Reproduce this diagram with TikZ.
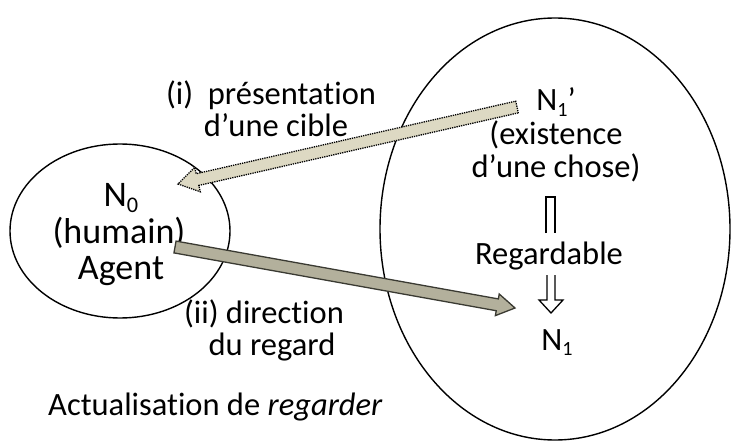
\documentclass[tikz,border=0pt]{standalone}
\usepackage{fontspec}
\setmainfont{Carlito}[Ligatures=NoCommon]
\usetikzlibrary{calc}
\definecolor{tanlight}{HTML}{DDD9C3}
\definecolor{tandark}{HTML}{B3B09C}
\definecolor{tanedge}{HTML}{3A3A32}
\newcommand\fatarrowshape[5]{% tail, tip, half shaft, half head, head length
  ($(#1)!#3!90:(#2)$) -- ($($(#2)!#5!(#1)$)!#3!90:(#2)$) -- ($($(#2)!#5!(#1)$)!#4!90:(#2)$) -- (#2)
  -- ($($(#2)!#5!(#1)$)!#4!-90:(#2)$) -- ($($(#2)!#5!(#1)$)!#3!-90:(#2)$) -- ($(#1)!#3!-90:(#2)$) -- cycle}
\newcommand\lowidx[1]{\raisebox{-0.17em}{\scalebox{0.62}{#1}}}
\tikzset{
  x=1pt, y=-1pt,
  ring/.style={draw=black, line width=1.4pt},
  lbl/.style={inner sep=0pt, anchor=base, font=\fontsize{32.5}{38}\selectfont},
  biglbl/.style={inner sep=0pt, anchor=base, font=\fontsize{36}{42}\selectfont},
  presarrow/.style={fill=tanlight, draw=black, densely dotted, line width=1.3pt},
  dirarrow/.style={fill=tandark, draw=tanedge, line width=1.3pt},
  dblarrow/.style={draw=black, line width=1.3pt, line join=miter}
}
\begin{document}
\begin{tikzpicture}
\useasboundingbox (0,0) rectangle (731,441);
% ellipses
\draw[ring] (555,229) ellipse [x radius=175, y radius=211];
\draw[ring] (120,231) ellipse [x radius=110, y radius=87];
% left texts
\node[biglbl] (n0) at (121,206) {N\lowidx{0}};
\node[biglbl] (hum) at (119,243) {(humain)};
\node[biglbl] (agent) at (121,279) {Agent};
% right texts
\node[lbl] (n1p) at (556,111) {N\lowidx{1}’};
\node[lbl] (exist) at (556,145) {(existence};
\node[lbl] (chose) at (556,177) {d’une chose)};
\node[lbl] (regard) at (549,264) {Regardable};
\node[lbl] (n1) at (557,350) {N\lowidx{1}};
% arrow labels
\node[lbl] (pres1) at (271,105) {(i)\ \ présentation};
\node[lbl] (pres2) at (276,137) {d’une cible};
\node[lbl] (dir1) at (264,323) {(ii) direction};
\node[lbl] (dir2) at (272,355) {du regard};
\node[lbl, anchor=base west] (title) at (48,415) {Actualisation de \textit{regarder}};
% fat arrows
\coordinate (presTail) at (517,107);
\coordinate (presTip) at (178,184);
\coordinate (dirTail) at (175,247);
\coordinate (dirTip) at (515,308);
\path[presarrow] \fatarrowshape{presTail}{presTip}{6pt}{12.5pt}{20pt};
\path[dirarrow] \fatarrowshape{dirTail}{dirTip}{6pt}{11pt}{18pt};
% double arrows between N1' and N1
\draw[dblarrow] (546,233) -- (546,197) -- (555,197) -- (555,233);
\draw[dblarrow] (547,275) -- (547,300) -- (539,300) -- (551,313) -- (563,300) -- (555,300) -- (555,275);
\end{tikzpicture}
\end{document}
